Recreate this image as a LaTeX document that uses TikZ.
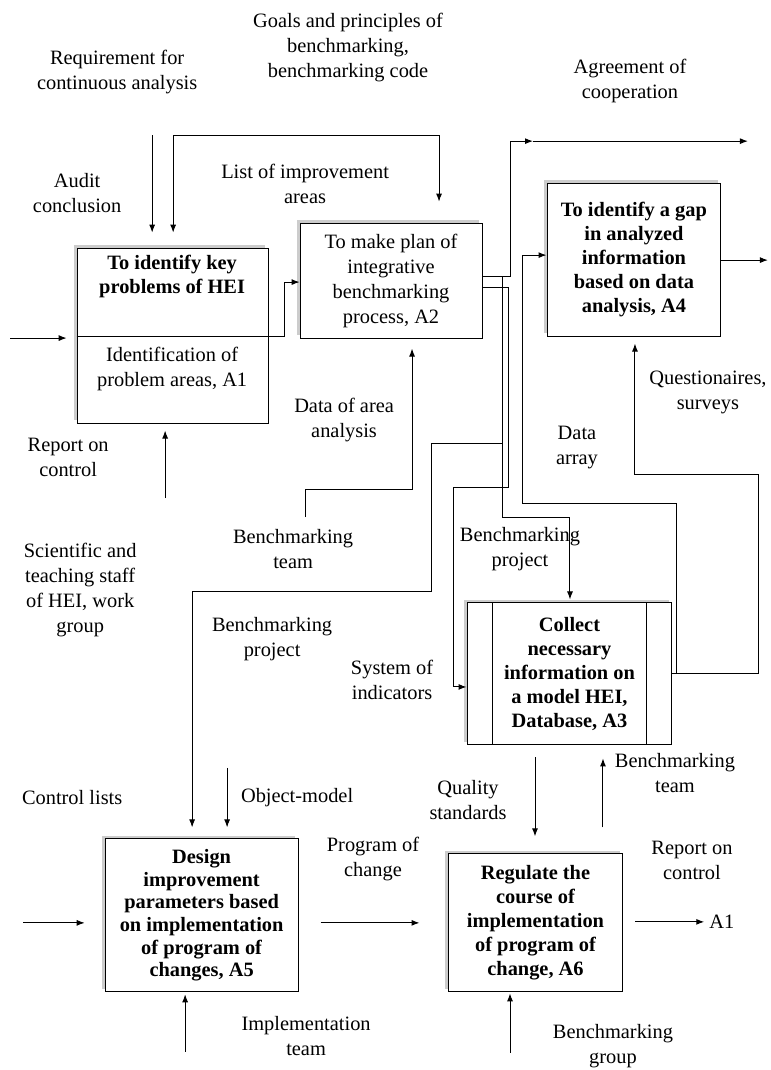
\documentclass[tikz,border=0pt]{standalone}
\usepackage{fontspec}
\setmainfont{Liberation Serif}
\usetikzlibrary{arrows.meta}
\usetikzlibrary{shadows}

\begin{document}
\begin{tikzpicture}[x=1pt, y=-1pt,
  every node/.style={font=\fontsize{20.4}{25}\selectfont, align=center, inner sep=0pt},
  btxt/.style={font=\fontsize{20.4}{24}\selectfont\bfseries},
  box/.style={draw, fill=white, line width=1pt,
    drop shadow={shadow xshift=-3pt, shadow yshift=3pt, fill=gray!40, opacity=1}},
  line/.style={line width=1pt},
  arr/.style={line width=1pt, -{Latex[length=8pt, width=6pt]}},
  arrtwo/.style={line width=1pt, {Latex[length=8pt, width=6pt]}-{Latex[length=8pt, width=6pt]}}]
% size of the page
\draw[white] (0,0) rectangle (770,1070);

% activity boxes
\node[box, minimum width=191pt, minimum height=175pt] (A1) at (172.5,335.5) {};
\draw[line] (A1.west |- 0,336) -- (A1.east |- 0,336);
\node[btxt] (A1top) at (172,276.5) {To identify key\\problems of HEI};
\node (A1bot) at (172,368.5) {Identification of\\problem areas, A1};
\node[box, minimum width=182pt, minimum height=115pt] (A2) at (391,280.5) {To make plan of\\integrative\\benchmarking\\process, A2};
\node[box, btxt, minimum width=174pt, minimum height=153pt] (A4) at (634,259.5) {To identify a gap\\in analyzed\\information\\based on data\\analysis, A4};
\node[box, btxt, minimum width=205pt, minimum height=142pt] (A3) at (569.5,674) {Collect\\necessary\\information on\\a model HEI,\\Database, A3};
\draw[line] (A3.north -| 492,0) -- (A3.south -| 492,0);
\draw[line] (A3.north -| 647,0) -- (A3.south -| 647,0);
\node[box, btxt, font=\fontsize{20.4}{22.6}\selectfont\bfseries, minimum width=193pt, minimum height=153pt] (A5) at (201.5,915.5) {Design\\improvement\\parameters based\\on implementation\\of program of\\changes, A5};
\node[box, btxt, minimum width=175pt, minimum height=138pt] (A6) at (535.5,923) {Regulate the\\course of\\implementation\\of program of\\change, A6};

% labels
\node (goals) at (348,47) {Goals and principles of\\benchmarking,\\benchmarking code};
\node (req) at (117,71.5) {Requirement for\\continuous analysis};
\node (agr) at (630,80.5) {Agreement of\\cooperation};
\node (audit) at (77,192.5) {Audit\\conclusion};
\node (list) at (305,184) {List of improvement\\areas};
\node (dataarea) at (344,420) {Data of area\\analysis};
\node (dataarr) at (577,447.5) {Data\\array};
\node (quest) at (708,392.5) {Questionaires,\\surveys};
\node (rep1) at (68,457.5) {Report on\\control};
\node (bteam1) at (293,549.5) {Benchmarking\\team};
\node (staff) at (80,590.5) {Scientific and\\teaching staff\\of HEI, work\\group};
\node (bproj1) at (272,639.5) {Benchmarking\\project};
\node (bproj2) at (520,549.5) {Benchmarking\\project};
\node (sysind) at (392,680) {System of\\indicators};
\node (ctrl) at (72,798) {Control lists};
\node (objm) at (297,798) {Object-model};
\node (prog) at (373,859.5) {Program of\\change};
\node (qual) at (468,800) {Quality\\standards};
\node (bteam2) at (675,773) {Benchmarking\\team};
\node (rep2) at (692,860.5) {Report on\\control};
\node (outA1) at (722,922) {A1};
\node (impl) at (306,1036) {Implementation\\team};
\node (bgroup) at (613,1046.5) {Benchmarking\\group};

% arrows round A1
\coordinate (reqtop) at (152,135);
\draw[arr, shorten >=15pt] (reqtop) -- (reqtop |- A1.north);
\coordinate (lst1) at (173,135);
\coordinate (lst2) at (439,135);
\draw[arrtwo, shorten <=15pt, shorten >=21pt] (lst1 |- A1.north) -- (lst1) -- (lst2) -- (lst2 |- A2.north);
\coordinate (inA1) at (10,338);
\draw[arr, shorten >=10pt] (inA1) -- (inA1 -| A1.west);
\coordinate (mechA1) at (165,498);
\draw[arr, shorten >=7pt] (mechA1) -- (mechA1 |- A1.south);
\coordinate (a1out) at (A1.east |- 0,336);
\draw[arr] (a1out) -- ++(16,0) |- (A2.west |- 0,282);

% outputs of A2
\coordinate (a2o1) at (A2.east |- 0,276);
\coordinate (a2o2) at (A2.east |- 0,287);
\coordinate (agr1) at (510,141);
\coordinate (agr2) at (533,141);
\coordinate (agr3) at (748,141);
\draw[arr] (a2o1) -- (a2o1 -| agr1) -- (agr1) -- (agr2);
\draw[arr] (agr2) -- (agr3);
\coordinate (pr1) at (502,517);
\coordinate (pr2) at (570,517);
\draw[arr, shorten >=3pt] (a2o1 -| pr1) -- (pr1) -- (pr2) -- (pr2 |- A3.north);
\coordinate (pj1) at (502,443);
\coordinate (pj2) at (431,443);
\coordinate (pj3) at (431,592);
\coordinate (pj4) at (192,592);
\draw[arr, shorten >=11pt] (pj1) -- (pj2) -- (pj3) -- (pj4) -- (pj4 |- A5.north);
\coordinate (si1) at (508,487);
\coordinate (si2) at (453,487);
\coordinate (si3) at (453,687);
\draw[arr] (a2o2) -- (a2o2 -| si1) -- (si1) -- (si2) -- (si3) -- (si3 -| A3.west);
\coordinate (da1) at (305,517);
\coordinate (da2) at (305,489);
\coordinate (da3) at (412,489);
\draw[arr, shorten >=10pt] (da1) -- (da2) -- (da3) -- (da3 |- A2.south);

% outputs of A3 and A4
\coordinate (a3o) at (A3.east |- 0,674);
\coordinate (qs1) at (759,674);
\coordinate (qs2) at (759,474);
\coordinate (qs3) at (635,474);
\draw[arr, shorten >=7pt] (a3o) -- (qs1) -- (qs2) -- (qs3) -- (qs3 |- A4.south);
\coordinate (dr1) at (677,674);
\coordinate (dr2) at (677,503);
\coordinate (dr3) at (522,503);
\coordinate (dr4) at (522,255);
\draw[arr] (dr1) -- (dr2) -- (dr3) -- (dr4) -- (dr4 -| A4.west);
\coordinate (a4e) at (768,260);
\draw[arr] (A4.east |- a4e) -- (a4e);

% arrows round A5
\coordinate (om) at (227,768);
\draw[arr, shorten >=11pt] (om) -- (om |- A5.north);
\coordinate (inA5) at (23,923);
\draw[arr, shorten >=20pt] (inA5) -- (inA5 -| A5.west);
\coordinate (mechA5) at (185,1052);
\draw[arr, shorten >=2pt] (mechA5) -- (mechA5 |- A5.south);
\coordinate (a5o) at (A5.east |- 0,923);
\draw[arr, shorten <=22pt, shorten >=28pt] (a5o) -- (a5o -| A6.west);

% arrows round A6
\coordinate (qsx) at (535,0);
\draw[arr, shorten <=12pt, shorten >=17pt] (A3.south -| qsx) -- (A6.north -| qsx);
\coordinate (btx) at (603,0);
\draw[arr, shorten <=26pt, shorten >=13pt] (A6.north -| btx) -- (A3.south -| btx);
\draw[arr, shorten <=12pt, shorten >=5pt] (A6.east |- outA1) -- (outA1.west);
\coordinate (mechA6) at (510,1053);
\draw[arr, shorten >=1pt] (mechA6) -- (mechA6 |- A6.south);
\end{tikzpicture}
\end{document}
